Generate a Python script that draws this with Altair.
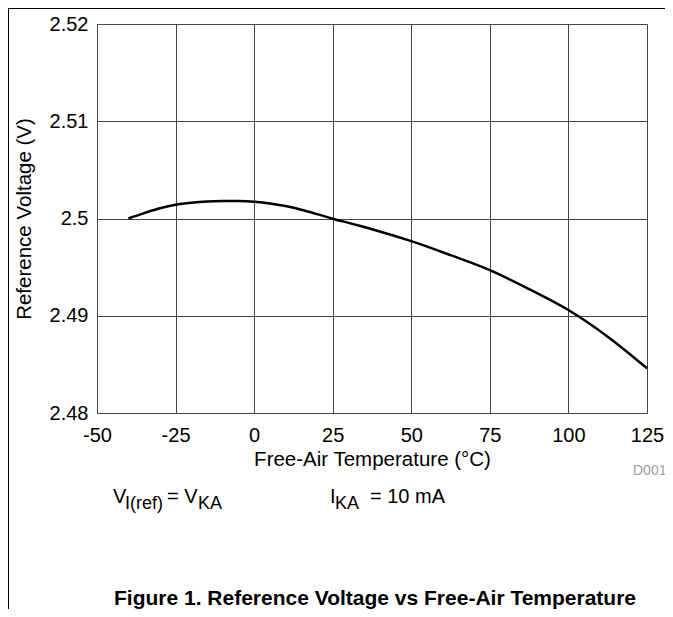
import altair as alt
import pandas as pd

# Data
temps = [-40, -35, -30, -25, -20, -15, -10, -5, 0, 5, 10, 15, 20, 25, 30,
         37.5, 50, 62.5, 75, 87.5, 100, 112.5, 125]
vref = [2.50000, 2.50055, 2.50105, 2.50142, 2.50163, 2.50176, 2.50181, 2.50179,
        2.50171, 2.50155, 2.50128, 2.50090, 2.50045, 2.49998, 2.49955,
        2.49890, 2.49767, 2.49623, 2.49469, 2.49274, 2.49059, 2.48785, 2.48460]
x_ticks = [-50, -25, 0, 25, 50, 75, 100, 125]
y_ticks = [2.48, 2.49, 2.50, 2.51, 2.52]

FONT = "Liberation Sans"
df = pd.DataFrame({"T": temps, "V": vref})

x_enc = alt.X("T:Q", scale=alt.Scale(domain=[-50, 125], nice=False, zero=False),
              axis=alt.Axis(values=x_ticks, labelExpr="'' + datum.value",
                            title="Free-Air Temperature (°C)", labelFlush=False,
                            grid=True, gridColor="#444444", gridWidth=1,
                            domain=False, ticks=False, labelPadding=12,
                            labelFontSize=20, titleFontSize=20.5, titlePadding=4,
                            labelFont=FONT, titleFont=FONT, labelColor="black",
                            titleColor="black", titleFontWeight="normal"))
y_enc = alt.Y("V:Q", scale=alt.Scale(domain=[2.48, 2.52], nice=False, zero=False),
              axis=alt.Axis(values=y_ticks, format=".2~f", title="Reference Voltage (V)",
                            grid=True, gridColor="#444444", gridWidth=1,
                            domain=False, ticks=False, labelPadding=9,
                            labelFontSize=20, titleFontSize=20.5, titlePadding=15,
                            labelFont=FONT, titleFont=FONT, labelColor="black",
                            titleColor="black", titleFontWeight="normal"))

line = alt.Chart(df).mark_line(color="black", strokeWidth=2.5, interpolate="monotone").encode(
    x=x_enc, y=y_enc)

def txt(s, x, y, size=20, color="black", weight="normal", align="left"):
    return alt.Chart(pd.DataFrame({"t": [s]})).mark_text(
        font=FONT, fontSize=size, color=color, fontWeight=weight, align=align,
        baseline="alphabetic").encode(text="t:N", x=alt.value(x), y=alt.value(y))

notes = [
    txt("V", 16, 479),
    txt("I(ref)", 28, 485, size=18),
    txt("= V", 70, 479),
    txt("KA", 101, 485, size=18),
    txt("I", 233, 479),
    txt("KA", 238, 485, size=18),
    txt("= 10 mA", 273, 479),
    txt("D001", 536, 451, size=14, color="#a0a0a0"),
    txt("Figure 1. Reference Voltage vs Free-Air Temperature", 278, 581,
        size=21, weight="bold", align="center"),
]

frame_left = alt.Chart(pd.DataFrame({"a": [0]})).mark_rule(color="black", strokeWidth=1).encode(
    x=alt.value(-88.5), y=alt.value(-16), y2=alt.value(600))
frame_top = alt.Chart(pd.DataFrame({"a": [0]})).mark_rule(color="black", strokeWidth=1).encode(
    x=alt.value(-89), x2=alt.value(580), y=alt.value(-15.5))

chart = alt.layer(line, *notes, frame_left, frame_top).properties(
    width=550, height=389,
    padding={"left": 89, "top": 16, "right": 18, "bottom": 196},
    autosize="none",
).configure_view(stroke="black", strokeWidth=2.5).configure(background="white")

chart.save("out.html", embed_options={"renderer": "svg", "actions": False})
